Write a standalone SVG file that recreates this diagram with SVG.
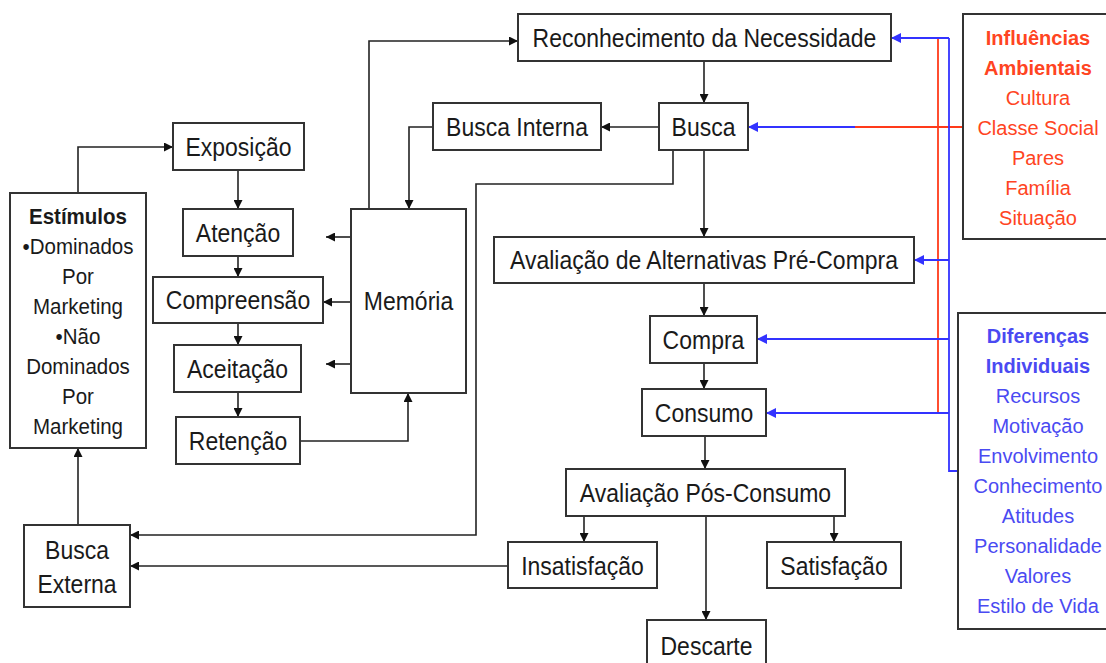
<svg xmlns="http://www.w3.org/2000/svg" width="1106" height="663" viewBox="0 0 1106 663">
<defs>
<style>
.box{fill:#fff;stroke:#333;stroke-width:2}
.t{font-family:"Liberation Sans",Arial,sans-serif;font-size:23px;text-anchor:middle;fill:#1a1a1a}
.s{font-family:"Liberation Sans",Arial,sans-serif;font-size:20.5px;text-anchor:middle;fill:#1a1a1a}
.r{font-family:"Liberation Sans",Arial,sans-serif;font-size:20px;text-anchor:middle;fill:#ff4422}
.b{font-family:"Liberation Sans",Arial,sans-serif;font-size:20px;text-anchor:middle;fill:#4a4af2}
.bold{font-weight:bold}
.c{fill:none;stroke:#222;stroke-width:1.6}
.cr{fill:none;stroke:#ff3a1a;stroke-width:1.8}
.cb{fill:none;stroke:#3333ff;stroke-width:1.8}
</style>
<marker id="ak" viewBox="0 0 10 10" refX="10" refY="5" markerWidth="9" markerHeight="9" markerUnits="userSpaceOnUse" orient="auto"><path d="M0,0 L10,5 L0,10 z" fill="#111"/></marker>
<marker id="ab" viewBox="0 0 10 10" refX="10" refY="5" markerWidth="10" markerHeight="10" markerUnits="userSpaceOnUse" orient="auto"><path d="M0,0 L10,5 L0,10 z" fill="#3333ff"/></marker>
</defs>
<rect width="1106" height="663" fill="#fff"/>

<g id="connectors">
<path class="c" d="M78,193 V147 H173" marker-end="url(#ak)"/>
<path class="c" d="M238,170 V209" marker-end="url(#ak)"/>
<path class="c" d="M238,256 V277" marker-end="url(#ak)"/>
<path class="c" d="M238,323 V345" marker-end="url(#ak)"/>
<path class="c" d="M238,392 V417" marker-end="url(#ak)"/>
<path class="c" d="M351,237 H326" marker-end="url(#ak)"/>
<path class="c" d="M351,302 H323" marker-end="url(#ak)"/>
<path class="c" d="M351,364 H326" marker-end="url(#ak)"/>
<path class="c" d="M300,441 H408 V393" marker-end="url(#ak)"/>
<path class="c" d="M369,209 V41 H518" marker-end="url(#ak)"/>
<path class="c" d="M433,127 H409 V209" marker-end="url(#ak)"/>
<path class="c" d="M659,127 H601" marker-end="url(#ak)"/>
<path class="c" d="M704,61 V103" marker-end="url(#ak)"/>
<path class="c" d="M673,150 V184 H476 V535 H130" marker-end="url(#ak)"/>
<path class="c" d="M704,150 V237" marker-end="url(#ak)"/>
<path class="c" d="M704,283 V316" marker-end="url(#ak)"/>
<path class="c" d="M704,363 V389" marker-end="url(#ak)"/>
<path class="c" d="M705,436 V469" marker-end="url(#ak)"/>
<path class="c" d="M584,516 V542" marker-end="url(#ak)"/>
<path class="c" d="M834,516 V542" marker-end="url(#ak)"/>
<path class="c" d="M706,516 V620" marker-end="url(#ak)"/>
<path class="c" d="M508,566 H130" marker-end="url(#ak)"/>
<path class="c" d="M78,525 V448" marker-end="url(#ak)"/>
<path class="cr" d="M938,38 V413"/>
<path class="cr" d="M963,127 H855"/>
<path class="cb" d="M949,38 V471 H958"/>
<path class="cb" d="M949,38 H891" marker-end="url(#ab)"/>
<path class="cb" d="M855,127 H748" marker-end="url(#ab)"/>
<path class="cb" d="M949,260 H914" marker-end="url(#ab)"/>
<path class="cb" d="M949,339 H757" marker-end="url(#ab)"/>
<path class="cb" d="M949,413 H766" marker-end="url(#ab)"/>
</g>

<g id="reconhecimento"><rect class="box" x="518" y="14" width="373" height="47"/><text class="t" transform="translate(704.5 47) scale(1 1.12)">Reconhecimento da Necessidade</text></g>
<g id="busca-interna"><rect class="box" x="433" y="103" width="168" height="47"/><text class="t" transform="translate(517 136) scale(1 1.12)">Busca Interna</text></g>
<g id="busca"><rect class="box" x="659" y="103" width="89" height="47"/><text class="t" transform="translate(703.5 136) scale(1 1.12)">Busca</text></g>
<g id="exposicao"><rect class="box" x="173" y="123" width="131" height="47"/><text class="t" transform="translate(238.5 156) scale(1 1.12)">Exposição</text></g>
<g id="estimulos"><rect class="box" x="10" y="193" width="136" height="255"/>
<text class="s bold" transform="translate(78 224) scale(1 1.08)">Estímulos</text>
<text class="s" transform="translate(78 254) scale(1 1.08)">•Dominados</text>
<text class="s" transform="translate(78 284) scale(1 1.08)">Por</text>
<text class="s" transform="translate(78 314) scale(1 1.08)">Marketing</text>
<text class="s" transform="translate(78 344) scale(1 1.08)">•Não</text>
<text class="s" transform="translate(78 374) scale(1 1.08)">Dominados</text>
<text class="s" transform="translate(78 404) scale(1 1.08)">Por</text>
<text class="s" transform="translate(78 434) scale(1 1.08)">Marketing</text>
</g>
<g id="atencao"><rect class="box" x="183" y="209" width="110" height="47"/><text class="t" transform="translate(238 242) scale(1 1.12)">Atenção</text></g>
<g id="compreensao"><rect class="box" x="153" y="277" width="170" height="46"/><text class="t" transform="translate(238 309) scale(1 1.12)">Compreensão</text></g>
<g id="aceitacao"><rect class="box" x="174" y="345" width="127" height="47"/><text class="t" transform="translate(237.5 378) scale(1 1.12)">Aceitação</text></g>
<g id="retencao"><rect class="box" x="176" y="417" width="124" height="47"/><text class="t" transform="translate(238 450) scale(1 1.12)">Retenção</text></g>
<g id="memoria"><rect class="box" x="351" y="209" width="115" height="184"/><text class="t" transform="translate(408.5 310) scale(1 1.12)">Memória</text></g>
<g id="pre-compra"><rect class="box" x="494" y="237" width="420" height="46"/><text class="t" transform="translate(704 269) scale(1 1.12)">Avaliação de Alternativas Pré-Compra</text></g>
<g id="compra"><rect class="box" x="650" y="316" width="107" height="47"/><text class="t" transform="translate(703.5 349) scale(1 1.12)">Compra</text></g>
<g id="consumo"><rect class="box" x="642" y="389" width="124" height="47"/><text class="t" transform="translate(704 422) scale(1 1.12)">Consumo</text></g>
<g id="pos-consumo"><rect class="box" x="566" y="469" width="279" height="47"/><text class="t" transform="translate(705.5 502) scale(1 1.12)">Avaliação Pós-Consumo</text></g>
<g id="insatisfacao"><rect class="box" x="508" y="542" width="149" height="46"/><text class="t" transform="translate(582.5 575) scale(1 1.12)">Insatisfação</text></g>
<g id="satisfacao"><rect class="box" x="767" y="542" width="134" height="46"/><text class="t" transform="translate(834 575) scale(1 1.12)">Satisfação</text></g>
<g id="descarte"><rect class="box" x="647" y="620" width="119" height="60"/><text class="t" transform="translate(706.5 655) scale(1 1.12)">Descarte</text></g>
<g id="busca-externa"><rect class="box" x="24" y="525" width="106" height="82"/>
<text class="t" transform="translate(77 559) scale(1 1.12)">Busca</text>
<text class="t" transform="translate(77 593) scale(1 1.12)">Externa</text></g>
<g id="influencias"><rect class="box" x="963" y="14" width="150" height="225"/>
<text class="r bold" x="1038" y="45">Influências</text>
<text class="r bold" x="1038" y="75">Ambientais</text>
<text class="r" x="1038" y="105">Cultura</text>
<text class="r" x="1038" y="135">Classe Social</text>
<text class="r" x="1038" y="165">Pares</text>
<text class="r" x="1038" y="195">Família</text>
<text class="r" x="1038" y="225">Situação</text>
</g>
<g id="diferencas"><rect class="box" x="958" y="313" width="155" height="316"/>
<text class="b bold" x="1038" y="343">Diferenças</text>
<text class="b bold" x="1038" y="373">Individuais</text>
<text class="b" x="1038" y="403">Recursos</text>
<text class="b" x="1038" y="433">Motivação</text>
<text class="b" x="1038" y="463">Envolvimento</text>
<text class="b" x="1038" y="493">Conhecimento</text>
<text class="b" x="1038" y="523">Atitudes</text>
<text class="b" x="1038" y="553">Personalidade</text>
<text class="b" x="1038" y="583">Valores</text>
<text class="b" x="1038" y="613">Estilo de Vida</text>
</g>
</svg>
